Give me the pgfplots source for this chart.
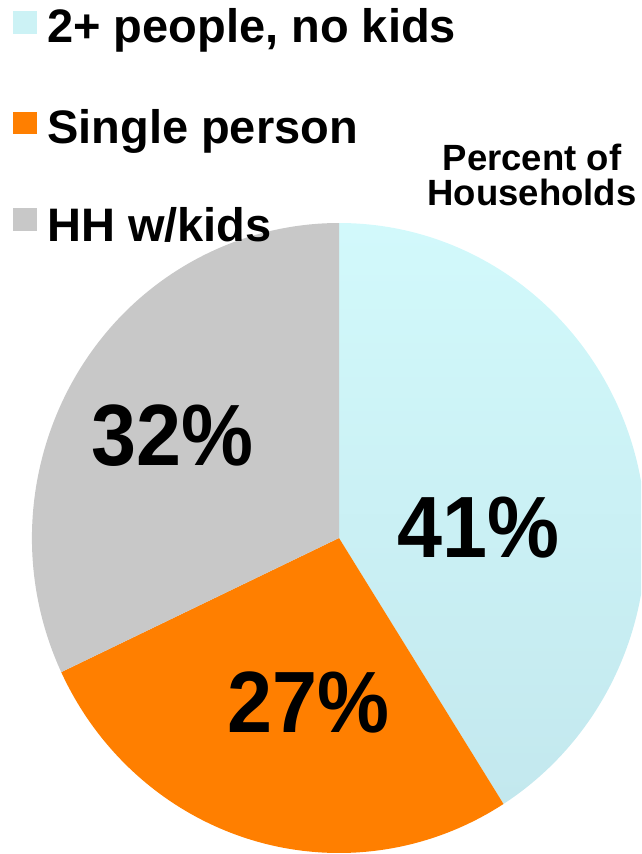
\documentclass[border=0pt]{standalone}
\usepackage{pgfplots}
\pgfplotsset{compat=1.18}
\usepackage{graphicx}
\usepackage{fontspec}
\setmainfont{Liberation Sans}
\definecolor{pieblueT}{HTML}{D2F9FB}
\definecolor{pieblueB}{HTML}{C3E8EE}
\definecolor{pieblue}{HTML}{CCF2F5}
\definecolor{pieorange}{HTML}{FF7F00}
\definecolor{piegray}{HTML}{C8C8C8}
% data (percent of households)
\def\vA{41}% 2+ people, no kids
\def\vB{27}% Single person
\def\vC{32}% HH w/kids
\pgfmathsetmacro\aA{90}
\pgfmathsetmacro\aB{\aA-3.6*\vA}
\pgfmathsetmacro\aC{\aB-3.6*\vB}
\pgfmathsetmacro\aD{\aC-3.6*\vC}
\def\cx{339}\def\cy{538}
\begin{document}
\begin{tikzpicture}
\useasboundingbox (0,0) rectangle (641pt,854pt);
\begin{axis}[at={(0,0)},anchor=south west,scale only axis,
  width=641pt,height=854pt,xmin=0,xmax=641,ymin=0,ymax=854,
  y dir=reverse,hide axis,clip=true]
\addplot[draw=none] coordinates {(0,0)};
\shade[top color=pieblueT,bottom color=pieblueB] (axis cs:\cx,\cy) -- ++(\aA:307pt and 315pt) arc[start angle=\aA,end angle=\aB,x radius=307pt,y radius=315pt] -- cycle;
\fill[pieorange] (axis cs:\cx,\cy) -- ++(\aB:307pt and 315pt) arc[start angle=\aB,end angle=\aC,x radius=307pt,y radius=315pt] -- cycle;
\fill[piegray] (axis cs:\cx,\cy) -- ++(\aC:307pt and 315pt) arc[start angle=\aC,end angle=\aD,x radius=307pt,y radius=315pt] -- cycle;
% labels on slices
\node[anchor=base,inner sep=0pt,font=\fontsize{87}{87}\selectfont\bfseries] at (axis cs:478,557) {\scalebox{0.93}[1]{\vA\%}};
\node[anchor=base,inner sep=0pt,font=\fontsize{87}{87}\selectfont\bfseries] at (axis cs:308,732) {\scalebox{0.93}[1]{\vB\%}};
\node[anchor=base,inner sep=0pt,font=\fontsize{87}{87}\selectfont\bfseries] at (axis cs:172,465) {\scalebox{0.93}[1]{\vC\%}};
% legend
\fill[pieblue] (axis cs:13,11) rectangle (axis cs:37,34);
\fill[pieorange] (axis cs:13,112) rectangle (axis cs:37,134);
\fill[piegray] (axis cs:13,208) rectangle (axis cs:37,231);
\node[anchor=base west,inner sep=0pt,font=\fontsize{47}{47}\selectfont\bfseries] at (axis cs:47,42) {2+ people, no kids};
\node[anchor=base west,inner sep=0pt,font=\fontsize{47}{47}\selectfont\bfseries] at (axis cs:47,143) {Single person};
\node[anchor=base west,inner sep=0pt,font=\fontsize{47}{47}\selectfont\bfseries] at (axis cs:47,241) {HH w/kids};
% title
\node[anchor=base,inner sep=0pt,font=\fontsize{36.5}{36.5}\selectfont\bfseries] at (axis cs:532,170) {Percent of};
\node[anchor=base,inner sep=0pt,font=\fontsize{36.5}{36.5}\selectfont\bfseries] at (axis cs:532,205) {Households};
\end{axis}
\end{tikzpicture}
\end{document}
